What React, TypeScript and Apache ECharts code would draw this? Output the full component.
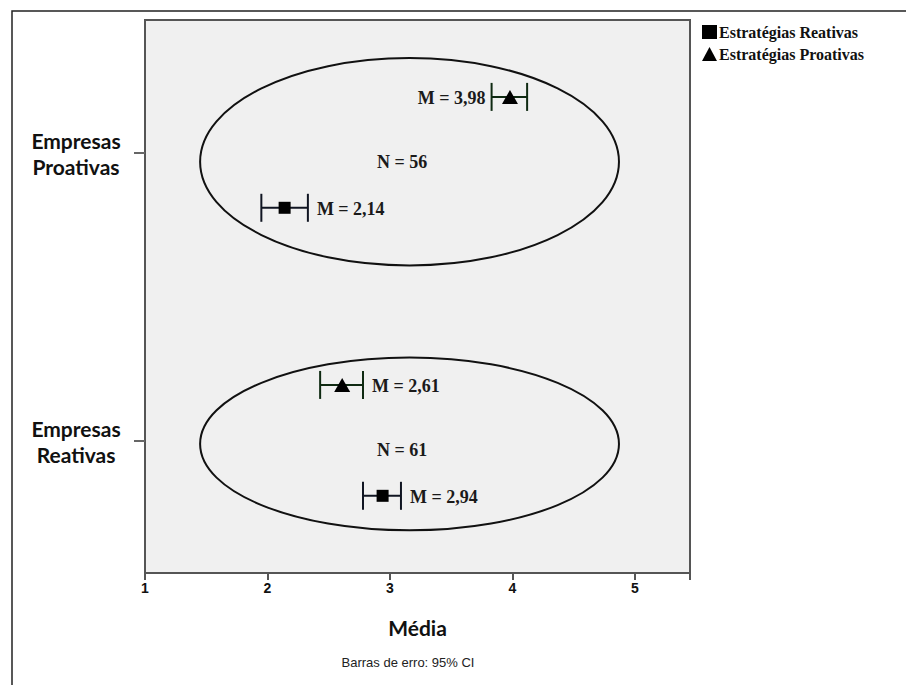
import React, { useEffect, useRef } from "react";
import * as echarts from "echarts";

// ---- data ----
const groups = ["Empresas Reativas", "Empresas Proativas"]; // y = 0, 1
const sampleSizes = [61, 56];
const reactiveName = "Estratégias Reativas";
const proactiveName = "Estratégias Proativas";
const reactiveMean = [2.94, 2.14];
const reactiveLow = [2.78, 1.95];
const reactiveHigh = [3.09, 2.33];
const proactiveMean = [2.61, 3.98];
const proactiveLow = [2.43, 3.83];
const proactiveHigh = [2.78, 4.12];
const xTicks = [1, 2, 3, 4, 5];

// ---- layout / style constants ----
const REACTIVE_DY = -0.19;
const PROACTIVE_DY = 0.195;
const ELLIPSE_CX = 3.16;
const ELLIPSE_RX = 1.71;
const ELLIPSE_CY = [-0.01, 0.97];
const ELLIPSE_RY = [0.3, 0.36];
const N_LABEL_X = 3.1;
const SERIF = '"Liberation Serif", "Times New Roman", serif';

const fmt = (v: number) => v.toFixed(2).replace(".", ",");

export default function App() {
  const ref = useRef<HTMLDivElement>(null);
  useEffect(() => {
    if (!ref.current) return;
    const chart = echarts.init(ref.current, null, { renderer: "svg" });

    const errorBarSeries = (
      lows: number[],
      highs: number[],
      means: number[],
      dy: number,
      stroke: string,
      leftLabelIdx: number[]
    ) => ({
      type: "custom",
      silent: true,
      z: 3,
      data: lows.map((lo, i) => [lo, highs[i], i + dy, means[i], i]),
      encode: { x: [0, 1], y: 2 },
      renderItem: (params: any, api: any) => {
        const y = api.value(2);
        const lo = api.coord([api.value(0), y]);
        const hi = api.coord([api.value(1), y]);
        const idx = api.value(4);
        const onLeft = leftLabelIdx.indexOf(idx) >= 0;
        const lineStyle = { stroke, lineWidth: 2 };
        return {
          type: "group",
          children: [
            { type: "line", shape: { x1: lo[0], y1: lo[1], x2: hi[0], y2: hi[1] }, style: lineStyle },
            { type: "line", shape: { x1: lo[0], y1: lo[1] - 14, x2: lo[0], y2: lo[1] + 14 }, style: lineStyle },
            { type: "line", shape: { x1: hi[0], y1: hi[1] - 14, x2: hi[0], y2: hi[1] + 14 }, style: lineStyle },
            {
              type: "text",
              style: {
                text: "M = " + fmt(api.value(3)),
                x: onLeft ? lo[0] - 6 : hi[0] + 9,
                y: lo[1] + 1,
                align: onLeft ? "right" : "left",
                verticalAlign: "middle",
                font: `bold 18px ${SERIF}`,
                fill: "#1a1a1a",
              },
            },
          ],
        };
      },
    });

    const option: any = {
      animation: false,
      backgroundColor: "#ffffff",
      grid: {
        left: 145,
        top: 20,
        width: 545,
        height: 553,
        show: true,
        backgroundColor: "#f0f0f0",
        borderColor: "#555",
        borderWidth: 2,
      },
      legend: {
        orient: "vertical",
        left: 697,
        top: 19,
        itemWidth: 15,
        itemHeight: 14,
        itemGap: 6,
        selectedMode: false,
        textStyle: { fontFamily: SERIF, fontWeight: "bold", fontSize: 16, color: "#111", padding: [0, 0, 0, -3] },
        data: [
          { name: reactiveName, icon: "rect", itemStyle: { color: "#000", opacity: 1 } },
          { name: proactiveName, icon: "triangle", itemStyle: { color: "#000", opacity: 1 } },
        ],
      },
      xAxis: {
        type: "value",
        min: 1,
        max: 5.45,
        interval: 1,
        name: "Média",
        nameLocation: "middle",
        nameGap: 44,
        nameTextStyle: { fontFamily: "Lato", fontWeight: "bold", fontSize: 21, color: "#111" },
        axisLine: { show: true, onZero: false, lineStyle: { color: "#555", width: 2 } },
        axisTick: { show: true, length: 7, lineStyle: { color: "#555", width: 2 } },
        axisLabel: {
          fontFamily: '"Liberation Sans", Arial, sans-serif',
          fontWeight: "bold",
          fontSize: 14,
          color: "#111",
          margin: 8,
          formatter: (v: number) => (xTicks.indexOf(v) >= 0 ? String(v) : ""),
        },
        splitLine: { show: false },
      },
      yAxis: {
        type: "value",
        min: -0.458,
        max: 1.462,
        axisLine: { show: true, onZero: false, lineStyle: { color: "#555", width: 2 } },
        axisTick: { show: true, length: 11, customValues: [0, 1], lineStyle: { color: "#666", width: 2 } },
        axisLabel: {
          customValues: [0, 1],
          formatter: (v: number) => groups[Math.round(v)].replace(" ", "\n"),
          fontFamily: "Lato",
          fontWeight: "bold",
          fontSize: 21,
          lineHeight: 26,
          color: "#111",
          align: "center",
          margin: 69,
        },
        splitLine: { show: false },
      },
      graphic: [
        {
          type: "rect",
          silent: true,
          shape: { x: 12, y: 11, width: 1200, height: 1200 },
          style: { fill: "none", stroke: "#222", lineWidth: 1.5 },
        },
        {
          type: "text",
          silent: true,
          x: 408,
          y: 662,
          style: {
            text: "Barras de erro: 95% CI",
            font: '13px "Liberation Sans", Arial, sans-serif',
            fill: "#222",
            align: "center",
            verticalAlign: "middle",
          },
        },
      ],
      series: [
        {
          type: "custom",
          silent: true,
          z: 2,
          data: groups.map((g, i) => [N_LABEL_X, i, sampleSizes[i]]),
          encode: { x: 0, y: 1 },
          renderItem: (params: any, api: any) => {
            const i = api.value(1);
            const cc = api.coord([ELLIPSE_CX, ELLIPSE_CY[i]]);
            const sz = api.size([ELLIPSE_RX, ELLIPSE_RY[i]]);
            const t = api.coord([api.value(0), i]);
            return {
              type: "group",
              children: [
                {
                  type: "ellipse",
                  shape: { cx: cc[0], cy: cc[1], rx: sz[0], ry: sz[1] },
                  style: { fill: "none", stroke: "#111", lineWidth: 2 },
                },
                {
                  type: "text",
                  style: {
                    text: "N = " + api.value(2),
                    x: t[0],
                    y: t[1] + 9,
                    align: "center",
                    verticalAlign: "middle",
                    font: `bold 18px ${SERIF}`,
                    fill: "#1a1a1a",
                  },
                },
              ],
            };
          },
        },
        errorBarSeries(reactiveLow, reactiveHigh, reactiveMean, REACTIVE_DY, "#101522", []),
        errorBarSeries(proactiveLow, proactiveHigh, proactiveMean, PROACTIVE_DY, "#0f2a12", [1]),
        {
          type: "scatter",
          name: reactiveName,
          symbol: "rect",
          symbolSize: 12,
          z: 4,
          itemStyle: { color: "#000", opacity: 1 },
          data: reactiveMean.map((m, i) => [m, i + REACTIVE_DY]),
        },
        {
          type: "scatter",
          name: proactiveName,
          symbol: "triangle",
          symbolSize: [16, 14],
          z: 4,
          itemStyle: { color: "#000", opacity: 1 },
          data: proactiveMean.map((m, i) => [m, i + PROACTIVE_DY]),
        },
      ],
    };
    chart.setOption(option);
    return () => chart.dispose();
  }, []);
  return (
    <div
      ref={ref}
      style={{ position: "fixed", left: 0, top: 0, width: 906, height: 685 }}
    />
  );
}
